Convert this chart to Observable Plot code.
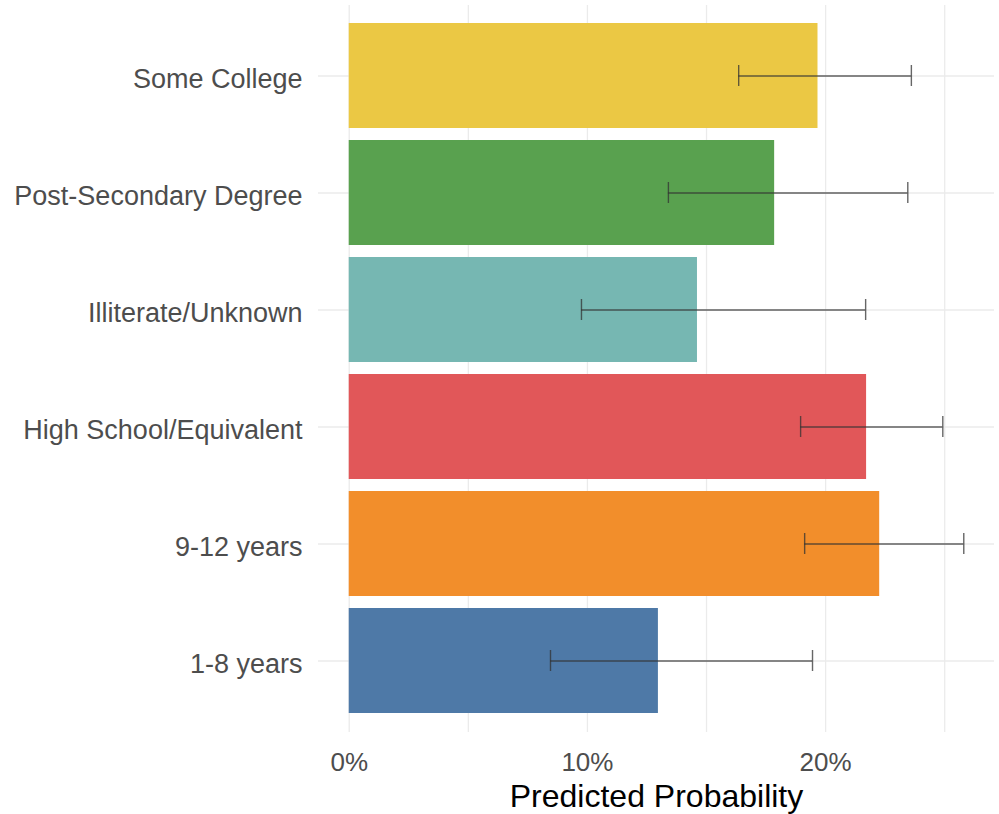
<!DOCTYPE html>
<html>
<head>
<meta charset="utf-8">
<script src="https://cdn.jsdelivr.net/npm/d3@7"></script>
<script src="https://cdn.jsdelivr.net/npm/@observablehq/plot@0.6"></script>
<style>
  html, body { margin: 0; padding: 0; background: #fff; }
  #chart { width: 999px; height: 814px; }
</style>
</head>
<body>
<div id="chart"></div>
<script>
// Categories, bottom to top
const categories = ["1-8 years", "9-12 years", "High School/Equivalent", "Illiterate/Unknown", "Post-Secondary Degree", "Some College"];
const predicted = [0.1298, 0.2227, 0.2172, 0.1462, 0.1786, 0.1968];
const lower     = [0.0845, 0.1912, 0.1895, 0.0975, 0.1340, 0.1635];
const upper     = [0.1945, 0.2580, 0.2492, 0.2168, 0.2345, 0.2360];
const colors    = ["#4E79A7", "#F28E2B", "#E15759", "#76B7B2", "#59A14F", "#EBC844"];
const xTicks = [0, 0.1, 0.2];
const xGrid = [0, 0.05, 0.1, 0.15, 0.2, 0.25];
const xTitle = "Predicted Probability";

const data = categories.map((c, i) => ({cat: c, p: predicted[i], lo: lower[i], hi: upper[i]}));

const chart = Plot.plot({
  width: 999,
  height: 814,
  marginLeft: 318,
  marginRight: 5,
  marginTop: 5,
  marginBottom: 82,
  style: {fontFamily: "'Liberation Sans', Arial, sans-serif", fontSize: "26px", background: "#fff"},
  x: {domain: [-0.0129, 0.2709]},
  y: {domain: categories.slice().reverse(), paddingInner: 0.1, paddingOuter: 0.15},
  color: {domain: categories, range: colors},
  marks: [
    Plot.gridX(xGrid, {stroke: "#ebebeb", strokeOpacity: 1, strokeWidth: 1.3}),
    Plot.gridY(categories, {stroke: "#ebebeb", strokeOpacity: 1, strokeWidth: 1.3}),
    Plot.barX(data, {y: "cat", x1: 0, x2: "p", fill: "cat"}),
    Plot.ruleY(data, {y: "cat", x1: "lo", x2: "hi", stroke: "#333", strokeOpacity: 0.75, strokeWidth: 1.4}),
    Plot.tickX(data, {y: "cat", x: "lo", stroke: "#333", strokeOpacity: 0.75, strokeWidth: 1.4, insetTop: 42, insetBottom: 42}),
    Plot.tickX(data, {y: "cat", x: "hi", stroke: "#333", strokeOpacity: 0.75, strokeWidth: 1.4, insetTop: 42, insetBottom: 42}),
    Plot.axisY({tickSize: 0, tickPadding: 16, label: null, color: "#4d4d4d", fontSize: 27, dy: 3}),
    Plot.axisX({ticks: xTicks, tickFormat: d3.format(".0%"), tickSize: 0, tickPadding: 20, label: null, color: "#4d4d4d", fontSize: 26}),
    Plot.text([xTitle], {frameAnchor: "bottom", lineAnchor: "bottom", dy: 74, fill: "#000", fontSize: 32})
  ]
});
document.getElementById("chart").appendChild(chart);
</script>
</body>
</html>
